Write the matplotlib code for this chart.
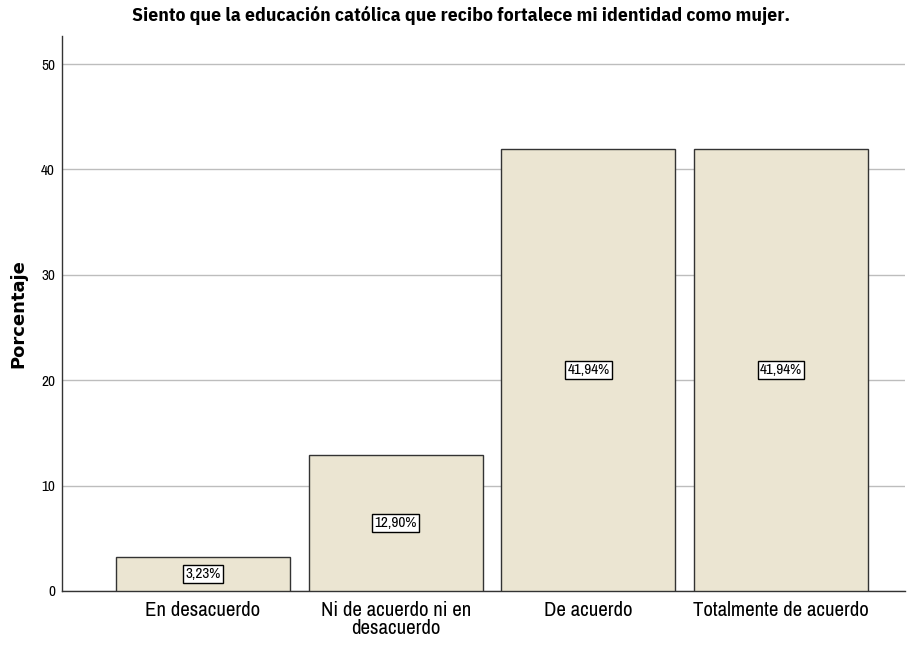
import matplotlib
matplotlib.use("Agg")
import matplotlib.pyplot as plt

categories = ["En desacuerdo", "Ni de acuerdo ni en\ndesacuerdo", "De acuerdo", "Totalmente de acuerdo"]
values = [3.23, 12.90, 41.94, 41.94]
labels = ["3,23%", "12,90%", "41,94%", "41,94%"]
yticks = [0, 10, 20, 30, 40, 50]

narrow = ["Archivo Narrow", "DejaVu Sans"]
narrow_bold = ["IBM Plex Sans Condensed", "DejaVu Sans"]

fig = plt.figure(figsize=(9.13, 6.5), dpi=100)
ax = fig.add_axes([62/913, 1-591/650, (905-62)/913, (591-36)/650])

x = list(range(len(categories)))
ax.bar(x, values, width=0.903, color="#EBE5D2", edgecolor="#333333", linewidth=1.0, zorder=3)
for xi, v, lab in zip(x, values, labels):
    ax.text(xi, v/2, lab, ha="center", va="center", fontsize=11, family=narrow, zorder=4,
            bbox=dict(boxstyle="square,pad=0.15", fc="white", ec="black", lw=1))

ax.set_xlim(-0.732, 3.643)
ax.set_ylim(0, 52.66)
ax.set_yticks(yticks)
ax.set_yticklabels([str(t) for t in yticks], family=narrow, fontsize=11)
ax.set_xticks(x)
ax.set_xticklabels(categories, family=narrow, fontsize=15, linespacing=0.95)
ax.tick_params(axis="y", length=0, pad=5)
ax.tick_params(axis="x", length=0, pad=7)
ax.yaxis.grid(True, color="#BDBDBD", linewidth=1.0, zorder=0)
ax.set_axisbelow(True)
for s in ["top", "right"]:
    ax.spines[s].set_visible(False)
for s in ["left", "bottom"]:
    ax.spines[s].set_color("#333333")
    ax.spines[s].set_linewidth(1)

ax.set_ylabel("Porcentaje", fontsize=13, fontweight="bold", family=["DejaVu Sans"])
ax.yaxis.set_label_coords(-0.0415, 0.5)
fig.text(461/913, 1-15/650, "Siento que la educación católica que recibo fortalece mi identidad como mujer.",
         ha="center", va="center", fontsize=14, fontweight="bold", family=narrow_bold)

fig.savefig("out.png", dpi=100)
